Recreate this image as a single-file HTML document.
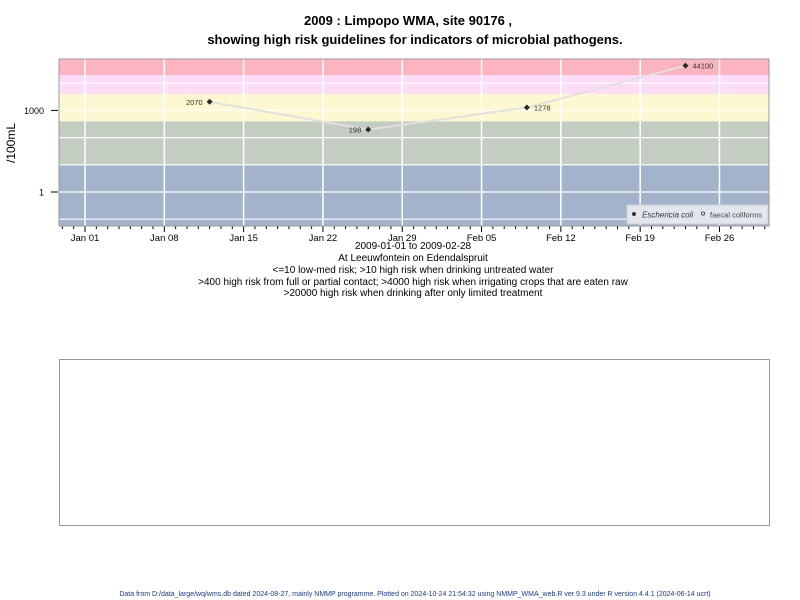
<!DOCTYPE html>
<html><head><meta charset="utf-8"><style>
html,body{margin:0;padding:0;background:#fff;}
svg{display:block;font-family:"Liberation Sans",Arial,sans-serif;}
</style></head><body>
<svg id="chart" width="800" height="600" viewBox="0 0 800 600" xmlns="http://www.w3.org/2000/svg">
<text x="408" y="25" text-anchor="middle" font-size="13" font-weight="bold">2009 : Limpopo WMA, site 90176 ,</text>
<text x="415" y="44" text-anchor="middle" font-size="13" font-weight="bold">showing high risk guidelines for indicators of microbial pathogens.</text>
<g id="bands"></g>
<g id="grid"></g>
<g id="axes"></g>
<g id="series"></g>
<rect x="59" y="59" width="710" height="167" fill="none" stroke="#999" stroke-width="1"/>
<g>
<rect x="627" y="205" width="141" height="19" fill="#e2e6ee" stroke="#ccc"/>
<circle cx="634" cy="214" r="2" fill="#333"/>
<text x="642" y="217.5" font-size="8" font-style="italic" fill="#333">Eschericia coli</text>
<circle cx="703" cy="213.5" r="1.6" fill="none" stroke="#333" stroke-width="0.8"/>
<text x="710" y="217.5" font-size="7.5" fill="#444">faecal coliforms</text>
</g>
<text transform="translate(15,143) rotate(-90)" text-anchor="middle" font-size="12">/100mL</text>
<g font-size="10" text-anchor="middle">
<text x="413" y="249">2009-01-01 to 2009-02-28</text>
<text x="413" y="261">At Leeuwfontein on Edendalspruit</text>
<text x="413" y="273">&lt;=10 low-med risk; &gt;10 high risk when drinking untreated water</text>
<text x="413" y="285">&gt;400 high risk from full or partial contact; &gt;4000 high risk when irrigating crops that are eaten raw</text>
<text x="413" y="296">&gt;20000 high risk when drinking after only limited treatment</text>
</g>
<rect x="59.5" y="359.5" width="710" height="166" fill="none" stroke="#999" stroke-width="1"/>
<text x="415" y="596" text-anchor="middle" font-size="7" fill="#1a3a8a">Data from D:/data_large/wq/wms.db dated 2024-08-27, mainly NMMP programme. Plotted on 2024-10-24 21:54:32 using NMMP_WMA_web.R ver 9.3 under R version 4.4.1 (2024-06-14 ucrt)</text>
</svg>
<script>
const sampleDays = [11, 25, 39, 53]; // days since 2009-01-01
const sampleValues = [2070, 198, 1278, 44100];
const bandBreaks = [10, 400, 4000, 20000];
const bandColors = ["#a3b3cc", "#c3cdc2", "#fdf8d0", "#fddcf8", "#fcb5c0"];
const yTickValues = [1, 1000];
const yTickLabels = ["1", "1000"];
const xTickDays = [0, 7, 14, 21, 28, 35, 42, 49, 56];
const xTickLabels = ["Jan 01","Jan 08","Jan 15","Jan 22","Jan 29","Feb 05","Feb 12","Feb 19","Feb 26"];
const gridDecades = [0.1, 1, 10, 100, 1000, 10000];

const NS = "http://www.w3.org/2000/svg";
const PL = 59, PR = 769, PT = 59, PB = 226;
function xs(d){ return 85 + d * 11.33; }
function ys(v){ return 192 - 27.2 * Math.log10(v); }
function mk(tag, attrs, parent){ const e = document.createElementNS(NS, tag); for (const k in attrs) e.setAttribute(k, attrs[k]); parent.appendChild(e); return e; }

const bands = document.getElementById("bands");
const edges = [PB].concat(bandBreaks.map(ys)).concat([PT]);
for (let i = 0; i < bandColors.length; i++) {
  const r = mk("rect", {x: PL, y: edges[i+1], width: PR-PL, height: edges[i]-edges[i+1], fill: bandColors[i]}, bands);
  
  
}
const grid = document.getElementById("grid");
gridDecades.forEach(v => {
  const y = ys(v);
  if (y > PT && y < PB) {
    const l = mk("line", {x1: PL, x2: PR, y1: y, y2: y, stroke: "#fff", "stroke-width": 1.2}, grid);
    
    
  }
});
xTickDays.forEach(d => {
  const l = mk("line", {x1: xs(d), x2: xs(d), y1: PT, y2: PB, stroke: "#fff", "stroke-width": 1.5}, grid);
  
  
});
const axes = document.getElementById("axes");
yTickValues.forEach((v, i) => {
  const y = ys(v);
  const t = mk("line", {x1: 51, x2: 58, y1: y, y2: y, stroke: "#000"}, axes);
  
  
  const tx = mk("text", {x: 44, y: y + 3.5, "text-anchor": "end", "font-size": 9}, axes);
  tx.textContent = yTickLabels[i];
  
  
});
for (let d = -2; d <= 60; d++) {
  const major = xTickDays.indexOf(d) >= 0;
  const t = mk("line", {x1: xs(d), x2: xs(d), y1: PB, y2: PB + (major ? 6 : 3), stroke: "#000"}, axes);
  
  
}
xTickDays.forEach((d, i) => {
  const tx = mk("text", {x: xs(d), y: 241, "text-anchor": "middle", "font-size": 9.5}, axes);
  tx.textContent = xTickLabels[i];
  
  
});
const series = document.getElementById("series");
const pts = sampleDays.map((d, i) => xs(d) + "," + ys(sampleValues[i])).join(" ");
const line = mk("polyline", {points: pts, fill: "none", stroke: "#e0e0e0", "stroke-width": 2}, series);


sampleDays.forEach((d, i) => {
  const x = xs(d), y = ys(sampleValues[i]);
  const p = mk("path", {d: `M${x},${y-3}L${x+3},${y}L${x},${y+3}L${x-3},${y}Z`, fill: "#2a2a2a"}, series);
  
  
  const left = i < 2;
  const tx = mk("text", {x: left ? x - 7 : x + 7, y: y + 3, "text-anchor": left ? "end" : "start", "font-size": 7.5, fill: "#333"}, series);
  tx.textContent = sampleValues[i];
  
  
});
</script>
</body></html>
